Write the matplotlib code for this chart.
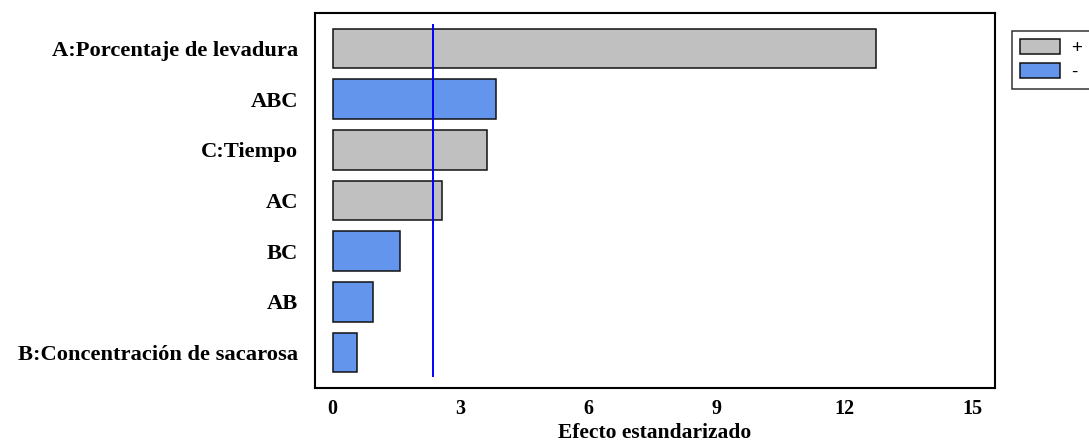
import matplotlib
matplotlib.use("Agg")
import matplotlib.pyplot as plt
from matplotlib.patches import Patch

# Standardized effects (Pareto chart)
factors = ["A:Porcentaje de levadura", "ABC", "C:Tiempo", "AC", "BC", "AB",
           "B:Concentración de sacarosa"]
effects = [12.73, 3.82, 3.62, 2.56, 1.58, 0.94, 0.56]
signs = ["+", "-", "+", "+", "-", "-", "-"]
critical_value = 2.34
x_ticks = [0, 3, 6, 9, 12, 15]

sign_colors = {"+": "#C0C0C0", "-": "#6495ED"}

fig = plt.figure(figsize=(10.89, 4.43), dpi=100)
ax = fig.add_axes([315 / 1089, 1 - 388 / 443, (995 - 315) / 1089, (388 - 13) / 443])

positions = list(range(len(factors)))
ax.barh(positions, effects, height=0.78,
        color=[sign_colors[s] for s in signs],
        edgecolor="#111111", linewidth=1.1)
ax.vlines(critical_value, -0.48, len(factors) - 1 + 0.48, color="#0000FF", linewidth=1.4)

ax.set_ylim(len(factors) - 1 + 0.7, -0.7)
ax.set_xlim(-0.415, 15.52)
ax.set_yticks(positions)
ax.set_yticklabels(factors)
ax.set_xticks(x_ticks)
ax.set_xticklabels([str(t) for t in x_ticks])

serif = ["Liberation Serif", "DejaVu Serif"]
for lab in ax.get_yticklabels():
    lab.set_fontfamily(serif)
    lab.set_fontweight("bold")
    lab.set_fontsize(16.2)
for lab in ax.get_xticklabels():
    lab.set_fontfamily(serif)
    lab.set_fontweight("bold")
    lab.set_fontsize(14.5)
ax.tick_params(axis="y", length=0, pad=12)
ax.tick_params(axis="x", length=0, pad=8)
ax.set_xlabel("Efecto estandarizado", fontfamily=serif, fontweight="bold",
              fontsize=15.5, labelpad=3)

for sp in ax.spines.values():
    sp.set_linewidth(1.5)
    sp.set_color("black")

handles = [Patch(facecolor=sign_colors["+"], edgecolor="#111111", linewidth=1.1),
           Patch(facecolor=sign_colors["-"], edgecolor="#111111", linewidth=1.1)]
leg = fig.legend(handles, ["+", "-"], loc="upper left",
                 bbox_to_anchor=(1011.7 / 1089, 1 - 30.7 / 443),
                 borderaxespad=0, handlelength=2.1, handleheight=0.85,
                 handletextpad=0.6, labelspacing=0.3, borderpad=0.45,
                 fancybox=False, frameon=True, prop={"family": "Liberation Sans", "size": 13.5})
leg.get_frame().set_edgecolor("black")
leg.get_frame().set_linewidth(1.1)

fig.savefig("out.png", dpi=100)
